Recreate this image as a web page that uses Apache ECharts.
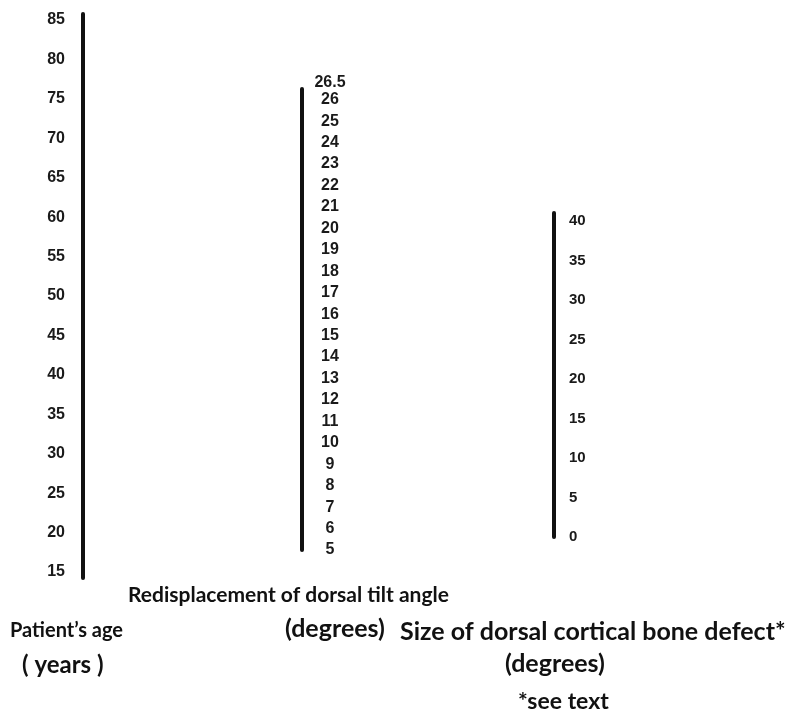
<!DOCTYPE html>
<html>
<head>
<meta charset="utf-8">
<script src="https://cdn.jsdelivr.net/npm/echarts@6/dist/echarts.min.js"></script>
<style>
  html, body { margin: 0; padding: 0; background: #fff; }
  #chart { width: 796px; height: 718px; }
</style>
</head>
<body>
<div id="chart"></div>
<script>
// scale values of the three nomogram lines
const ageTicks = [15, 20, 25, 30, 35, 40, 45, 50, 55, 60, 65, 70, 75, 80, 85];
const tiltTicks = [5, 6, 7, 8, 9, 10, 11, 12, 13, 14, 15, 16, 17, 18, 19, 20, 21, 22, 23, 24, 25, 26, 26.5];
const defectTicks = [0, 5, 10, 15, 20, 25, 30, 35, 40];

const ageRange = [14.24, 85.76];
const tiltRange = [5, 26.5];
const defectRange = [0, 41];

const chart = echarts.init(document.getElementById('chart'));

function scaleAxis(idx, range, ticks, pos, margin, align, fontSize) {
  return {
    type: 'value',
    gridIndex: idx,
    position: pos,
    min: range[0],
    max: range[1],
    splitLine: { show: false },
    axisTick: { show: false },
    axisLine: { show: true, lineStyle: { color: '#111', width: 4 } },
    axisLabel: {
      customValues: ticks,
      margin: margin,
      align: align,
      fontSize: fontSize,
      fontFamily: 'Liberation Sans, Arial, sans-serif',
      fontWeight: 'bold',
      color: '#1a1a1a',
      hideOverlap: false,
      showMinLabel: true,
      showMaxLabel: true
    }
  };
}

function titleText(x, y, text, size) {
  return {
    type: 'text',
    left: x,
    top: y,
    style: {
      text: text,
      font: 'bold ' + size + 'px Lato, "Open Sans", sans-serif',
      fill: '#111'
    }
  };
}

const tiltAxis = scaleAxis(1, tiltRange, tiltTicks, 'right', 27, 'center', 16);
// the top value sits a little above the end of the line
tiltAxis.axisLabel.formatter = function (v) {
  return v === 26.5 ? '{top|26.5}' : String(v);
};
tiltAxis.axisLabel.rich = {
  top: {
    fontSize: 16,
    fontWeight: 'bold',
    fontFamily: 'Liberation Sans, Arial, sans-serif',
    color: '#1a1a1a',
    padding: [0, 0, 12, 0]
  }
};

const option = {
  animation: false,
  backgroundColor: '#fff',
  grid: [
    { left: 83, top: 14, width: 1, height: 564 },
    { left: 302, top: 89, width: 1, height: 461 },
    { left: 554, top: 213, width: 1, height: 324 }
  ],
  xAxis: [0, 1, 2].map(i => ({
    type: 'value', gridIndex: i, show: false, min: 0, max: 1
  })),
  yAxis: [
    scaleAxis(0, ageRange, ageTicks, 'left', 18, 'right', 16),
    tiltAxis,
    scaleAxis(2, defectRange, defectTicks, 'right', 14, 'left', 15)
  ],
  series: [],
  graphic: [
    titleText(128, 585, 'Redisplacement of dorsal tilt angle', 21),
    titleText(10, 621, 'Patient\u2019s age', 20),
    titleText(22, 653, '( years )', 24),
    titleText(285, 616, '(degrees)', 25),
    titleText(400, 619, 'Size of dorsal cortical bone defect*', 25),
    titleText(505, 651, '(degrees)', 25),
    titleText(518, 690, '*see text', 23)
  ]
};

chart.setOption(option);
</script>
</body>
</html>
